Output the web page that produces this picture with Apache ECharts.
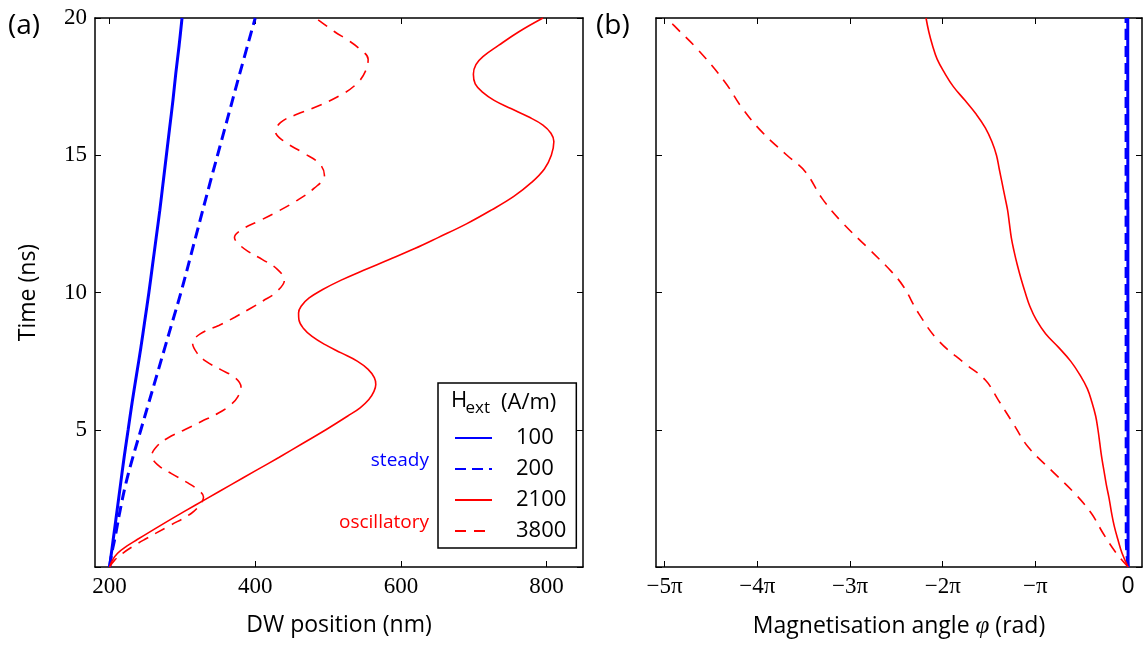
<!DOCTYPE html>
<html>
<head>
<meta charset="utf-8">
<script src="https://cdn.jsdelivr.net/npm/echarts@6/dist/echarts.min.js"></script>
<style>
html,body{margin:0;padding:0;background:#fff;}
#chart{width:1145px;height:646px;}
</style>
</head>
<body>
<div id="chart"></div>
<script>
// ---------- Panel (a): DW position (nm) vs time (ns) ----------
const T_100   = [0, 0.3, 0.7, 1, 1.5, 2, 3, 4, 5, 6, 7, 8, 9, 10, 11, 12, 13, 14, 15, 16, 17, 18, 19, 20];
const POS_100 = [200, 201.5, 203.5, 205, 207.5, 210, 215, 220, 225.5, 231, 237, 243, 248.5, 254, 259, 264, 269, 273.5, 278, 282.5, 287, 291, 295.5, 299.5];

const T_200   = [0, 0.5, 1, 1.5, 2, 3, 4, 5, 6, 7, 8, 9, 10, 12, 14, 16, 18, 20];
const POS_200 = [200, 203, 207, 210.5, 214, 222, 232, 243, 254, 265, 276, 287, 298, 318, 338, 358.5, 379, 400];

const T_2100   = [0, 0.25, 0.5, 0.75, 1.0, 1.5, 2.0, 2.5, 3.0, 3.5, 4.0, 4.5, 5.0, 5.5, 5.8, 6.1, 6.4, 6.65, 6.9, 7.2, 7.5, 7.8, 8.1, 8.4, 8.7, 9.0, 9.25, 9.5, 9.8, 10.1, 10.45, 10.8, 11.2, 11.6, 12.0, 12.5, 13.0, 13.5, 14.0, 14.5, 15.0, 15.5, 15.8, 16.1, 16.4, 16.7, 17.0, 17.3, 17.6, 17.95, 18.3, 18.6, 19.0, 19.5, 20];
const POS_2100 = [200, 204, 211, 223, 238, 269, 301, 334, 367, 400, 433, 465, 497, 527, 544, 556, 563, 565.5, 563.5, 555, 540, 518, 496, 478, 466, 460, 459.5, 463, 474, 492, 518, 548, 584, 619, 651, 690, 724, 755, 779, 797, 806.5, 810, 806, 795, 775, 751, 728, 712, 702, 699.5, 703, 713, 734, 762, 795];

const T_3800   = [0, 0.25, 0.5, 0.75, 1.0, 1.5, 1.95, 2.3, 2.55, 2.8, 3.1, 3.4, 3.7, 4.05, 4.4, 4.7, 5.0, 5.3, 5.6, 5.9, 6.2, 6.55, 6.9, 7.2, 7.5, 7.8, 8.15, 8.5, 8.8, 9.1, 9.4, 9.7, 10.0, 10.45, 10.85, 11.2, 11.5, 11.75, 12.0, 12.3, 12.6, 12.9, 13.3, 13.8, 14.27, 14.7, 15.1, 15.5, 15.85, 16.2, 16.5, 16.7, 17.2, 17.65, 18.1, 18.5, 18.9, 19.2, 19.5, 20];
const POS_3800 = [200, 207, 218, 232, 248, 282, 312, 325, 329, 322, 305, 285, 267, 258, 265, 280, 303, 326, 349, 366, 376, 380.5, 372, 352, 332, 320, 314, 325, 350, 372, 392, 411, 428, 440, 430, 410, 390, 378, 371.5, 382, 405, 427, 454, 481, 495, 488, 465, 440, 428, 435, 458, 478, 518, 541, 552, 555, 542, 527, 509, 483];

// ---------- Panel (b): magnetisation angle (in units of pi) vs time (ns) ----------
const T_PHI_100 = [0, 20];
const PHI_100   = [0, -0.004];

const T_PHI_200 = [0, 1, 20];
const PHI_200   = [0, -0.02, -0.022];

const T_PHI_2100 = [0, 0.5, 1.0, 1.5, 2.0, 2.5, 3.0, 3.5, 4.0, 4.5, 5.0, 5.5, 6.0, 6.5, 7.0, 7.5, 8.0, 8.5, 9.0, 9.5, 10.0, 10.5, 11.0, 11.5, 12.0, 12.5, 13.0, 13.5, 14.0, 14.5, 15.0, 15.5, 16.0, 16.5, 17.0, 17.5, 18.0, 18.5, 19.0, 19.5, 20];
const PHI_2100   = [0, -0.065, -0.11, -0.15, -0.18, -0.205, -0.235, -0.26, -0.285, -0.305, -0.325, -0.35, -0.39, -0.44, -0.52, -0.62, -0.75, -0.89, -0.99, -1.06, -1.11, -1.155, -1.195, -1.23, -1.26, -1.28, -1.30, -1.33, -1.36, -1.39, -1.42, -1.47, -1.54, -1.64, -1.76, -1.885, -1.98, -2.06, -2.11, -2.15, -2.18];

const T_PHI_3800 = [0, 0.5, 1.23, 1.95, 2.68, 3.53, 4.38, 5.23, 6.08, 6.81, 7.41, 8.26, 9.24, 10.2, 10.75, 11.6, 12.57, 13.42, 14.39, 15.0, 15.85, 16.7, 17.67, 18.88, 19.73, 20];
const PHI_3800   = [0, -0.126, -0.27, -0.395, -0.575, -0.83, -1.08, -1.24, -1.40, -1.54, -1.76, -2.05, -2.26, -2.42, -2.55, -2.80, -3.09, -3.30, -3.48, -3.68, -3.95, -4.16, -4.35, -4.65, -4.90, -4.97];

// ---------- Ticks / labels ----------
const POS_TICKS = [200, 400, 600, 800];
const PHI_TICKS = [-5, -4, -3, -2, -1, 0];
const PHI_TICK_LABELS = ['\u22125\u03c0', '\u22124\u03c0', '\u22123\u03c0', '\u22122\u03c0', '\u2212\u03c0', '0'];
const LEGEND_NAMES = ['100', '200', '2100', '3800'];

const BLUE = '#0000ff', RED = '#ff0000';
const SANS = '"Open Sans", "DejaVu Sans", sans-serif';
const SERIF = '"Liberation Serif", "DejaVu Serif", serif';

function zip(xs, ys) { return xs.map((x, i) => [x, ys[i]]); }

const frame = { show: true, onZero: false, lineStyle: { color: '#000', width: 1.5 } };
const tickStyle = { color: '#000', width: 1 };

function xAx(grid, pos, min, max, ticks, labels, name, nameRich) {
  const a = {
    type: 'value', gridIndex: grid, position: pos, min: min, max: max,
    axisLine: frame,
    axisTick: { show: true, inside: true, length: 6, customValues: ticks, lineStyle: tickStyle },
    splitLine: { show: false },
    axisLabel: { show: false }
  };
  if (labels) {
    a.axisLabel = {
      show: true, customValues: ticks, margin: 8, color: '#000',
      fontFamily: SERIF, fontSize: 23,
      formatter: labels,
      rich: { s: { fontFamily: SANS, fontSize: 23, color: '#000' } }
    };
    a.name = name;
    a.nameLocation = 'middle';
    a.nameGap = 47;
    a.nameTextStyle = { fontFamily: SANS, fontSize: 23, color: '#000', rich: nameRich || {} };
  }
  return a;
}

function yAx(grid, pos, labels) {
  const a = {
    type: 'value', gridIndex: grid, position: pos, min: 0, max: 20, interval: 5,
    axisLine: frame,
    axisTick: { show: true, inside: true, length: 6, lineStyle: tickStyle },
    splitLine: { show: false },
    axisLabel: { show: false }
  };
  if (labels) {
    a.axisLabel = {
      show: true, margin: 8, color: '#000', fontFamily: SERIF, fontSize: 23,
      formatter: v => (v === 0 ? '' : String(v))
    };
    a.name = 'Time (ns)';
    a.nameLocation = 'middle';
    a.nameGap = 55;
    a.nameRotate = 90;
    a.nameTextStyle = { fontFamily: SANS, fontSize: 23, color: '#000' };
  }
  return a;
}

function line(name, xi, yi, data, color, width, dashed) {
  return {
    name: name, type: 'line', xAxisIndex: xi, yAxisIndex: yi, data: data,
    symbol: 'none', showSymbol: false, smooth: 0.4, clip: true,
    lineStyle: { color: color, width: width, type: dashed ? dashed : 'solid' },
    itemStyle: { color: color }
  };
}

const option = {
  animation: false,
  backgroundColor: '#fff',
  grid: [
    { left: 95, top: 18, width: 488, height: 549 },
    { left: 656, top: 18, width: 486, height: 549 }
  ],
  xAxis: [
    xAx(0, 'bottom', 180, 850, POS_TICKS, v => String(v), 'DW position (nm)'),
    xAx(0, 'top', 180, 850, POS_TICKS, null),
    xAx(1, 'bottom', -16 / Math.PI, 0.15, PHI_TICKS,
        v => { const i = PHI_TICKS.indexOf(Math.round(v)); return i === 5 ? '{s|0}' : PHI_TICK_LABELS[i]; },
        '{a|Magnetisation angle }{p|\u03c6}{a| (rad)}',
        { a: { fontFamily: SANS, fontSize: 23, color: '#000' },
          p: { fontFamily: SERIF, fontStyle: 'italic', fontSize: 25, color: '#000' } }),
    xAx(1, 'top', -16 / Math.PI, 0.15, PHI_TICKS, null)
  ],
  yAxis: [
    yAx(0, 'left', true),
    yAx(0, 'right', false),
    yAx(1, 'left', false),
    yAx(1, 'right', false)
  ],
  legend: {
    data: LEGEND_NAMES,
    orient: 'vertical',
    left: 438, top: 383,
    padding: [44, 10, 6, 16],
    itemWidth: 37, itemHeight: 14, itemGap: 9,
    itemStyle: { opacity: 0 },
    backgroundColor: '#fff',
    borderColor: '#000', borderWidth: 1.5, borderRadius: 0,
    selectedMode: false,
    formatter: n => '{t|' + n + '}',
    textStyle: {
      color: '#000', fontFamily: SANS, fontSize: 22,
      rich: { t: { fontFamily: SANS, fontSize: 22, color: '#000', padding: [0, 0, 0, 19], lineHeight: 24 } }
    }
  },
  graphic: [
    { type: 'text', x: 8, y: 26, z: 100, style: { text: '(a)', fontFamily: SANS, fontSize: 28, fill: '#000', align: 'left', verticalAlign: 'middle' } },
    { type: 'text', x: 596, y: 26, z: 100, style: { text: '(b)', fontFamily: SANS, fontSize: 28, fill: '#000', align: 'left', verticalAlign: 'middle' } },
    { type: 'text', x: 429, y: 461, z: 100, style: { text: 'steady', fontFamily: SANS, fontSize: 19, fill: BLUE, align: 'right', verticalAlign: 'middle' } },
    { type: 'text', x: 429, y: 523, z: 100, style: { text: 'oscillatory', fontFamily: SANS, fontSize: 19, fill: RED, align: 'right', verticalAlign: 'middle' } },
    { type: 'text', x: 451, y: 401, z: 100, style: { text: 'H', fontFamily: SANS, fontSize: 22, fill: '#000', align: 'left', verticalAlign: 'middle' } },
    { type: 'text', x: 465.5, y: 408, z: 100, style: { text: 'ext', fontFamily: SANS, fontSize: 17, fill: '#000', align: 'left', verticalAlign: 'middle' } },
    { type: 'text', x: 501, y: 403, z: 100, style: { text: '(A/m)', fontFamily: SANS, fontSize: 22, fill: '#000', align: 'left', verticalAlign: 'middle' } }
  ],
  series: [
    line('100', 0, 0, zip(POS_100, T_100), BLUE, 3, null),
    line('200', 0, 0, zip(POS_200, T_200), BLUE, 3, [11, 6]),
    line('2100', 0, 0, zip(POS_2100, T_2100), RED, 1.6, null),
    line('3800', 0, 0, zip(POS_3800, T_3800), RED, 1.6, [11, 8]),
    line('100', 2, 2, zip(PHI_100, T_PHI_100), BLUE, 3, null),
    line('200', 2, 2, zip(PHI_200, T_PHI_200), BLUE, 3, [11, 6]),
    line('2100', 2, 2, zip(PHI_2100, T_PHI_2100), RED, 1.6, null),
    line('3800', 2, 2, zip(PHI_3800, T_PHI_3800), RED, 1.6, [11, 8])
  ]
};

const chart = echarts.init(document.getElementById('chart'), null, { renderer: 'canvas' });
chart.setOption(option);
</script>
</body>
</html>
